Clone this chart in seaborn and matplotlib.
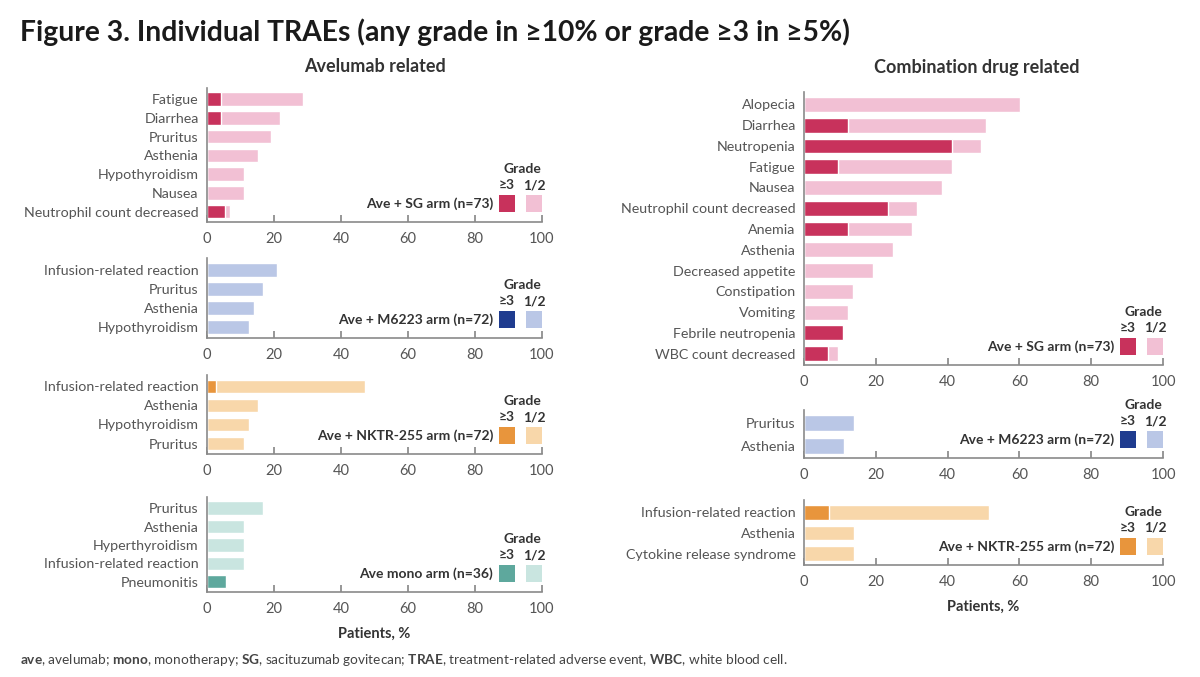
import seaborn as sns
import pandas as pd
import numpy as np
import matplotlib.pyplot as plt
from matplotlib.patches import Rectangle

# ---- data (patients, %) ----
# Avelumab related
sg_ave_labels = ['Fatigue', 'Diarrhea', 'Pruritus', 'Asthenia', 'Hypothyroidism', 'Nausea',
                 'Neutrophil count decreased']
sg_ave_any = [28.8, 21.9, 19.2, 15.1, 11.0, 11.0, 6.8]
sg_ave_g3 = [4.1, 4.1, 0, 0, 0, 0, 5.5]

m6_ave_labels = ['Infusion-related reaction', 'Pruritus', 'Asthenia', 'Hypothyroidism']
m6_ave_any = [20.8, 16.7, 13.9, 12.5]
m6_ave_g3 = [0, 0, 0, 0]

nk_ave_labels = ['Infusion-related reaction', 'Asthenia', 'Hypothyroidism', 'Pruritus']
nk_ave_any = [47.2, 15.3, 12.5, 11.1]
nk_ave_g3 = [2.8, 0, 0, 0]

mono_labels = ['Pruritus', 'Asthenia', 'Hyperthyroidism', 'Infusion-related reaction', 'Pneumonitis']
mono_any = [16.7, 11.1, 11.1, 11.1, 5.6]
mono_g3 = [0, 0, 0, 0, 5.6]

# Combination drug related
sg_comb_labels = ['Alopecia', 'Diarrhea', 'Neutropenia', 'Fatigue', 'Nausea',
                  'Neutrophil count decreased', 'Anemia', 'Asthenia', 'Decreased appetite',
                  'Constipation', 'Vomiting', 'Febrile neutropenia', 'WBC count decreased']
sg_comb_any = [60.3, 50.7, 49.3, 41.1, 38.4, 31.5, 30.1, 24.7, 19.2, 13.7, 12.3, 11.0, 9.6]
sg_comb_g3 = [0, 12.3, 41.1, 9.6, 0, 23.3, 12.3, 0, 0, 0, 0, 11.0, 6.8]

m6_comb_labels = ['Pruritus', 'Asthenia']
m6_comb_any = [13.9, 11.1]
m6_comb_g3 = [0, 0]

nk_comb_labels = ['Infusion-related reaction', 'Asthenia', 'Cytokine release syndrome']
nk_comb_any = [51.4, 13.9, 13.9]
nk_comb_g3 = [6.9, 0, 0]

# arm colours (grade >=3, grade 1/2)
sg_colors = ('#c8325c', '#f2c0d4')
m6_colors = ('#1f3c8f', '#bac7e6')
nk_colors = ('#e8953c', '#f8d7aa')
mono_colors = ('#5ea89d', '#c9e5e0')

sns.set_theme(style='white')
plt.rcParams['font.family'] = ['Lato', 'DejaVu Sans']
plt.rcParams['mathtext.fontset'] = 'custom'
plt.rcParams['mathtext.rm'] = 'Lato'
plt.rcParams['mathtext.bf'] = 'Lato:bold'

W, H = 1200, 677
fig = plt.figure(figsize=(W / 100, H / 100), dpi=100)

TXT = '#555555'
AX = '#8a8a8a'


def panel(rect_px, labels, total, g3, colors, arm, xlabel=False):
    x0, top, x1, bot = rect_px
    ax = fig.add_axes([x0 / W, 1 - bot / H, (x1 - x0) / W, (bot - top) / H])
    df = pd.DataFrame({'AE': labels, 'any': total, 'g3': g3})
    sns.barplot(data=df, x='any', y='AE', orient='h', color=colors[1], saturation=1,
                width=0.72, ax=ax)
    sns.barplot(data=df, x='g3', y='AE', orient='h', color=colors[0], saturation=1,
                width=0.72, ax=ax)
    ax.set_xlim(0, 100)
    ax.set_ylim(len(labels) - 0.45, -0.6)
    ax.set_xticks([0, 20, 40, 60, 80, 100])
    ax.set_ylabel('')
    ax.set_xlabel('Patients, %' if xlabel else '', fontsize=10.5, fontweight='bold',
                  color='#333333', labelpad=8)
    for s in ['top', 'right']:
        ax.spines[s].set_visible(False)
    for s in ['left', 'bottom']:
        ax.spines[s].set_color(AX)
        ax.spines[s].set_linewidth(1.2)
    ax.tick_params(axis='x', direction='in', length=5, color=AX, labelsize=10.5,
                   labelcolor=TXT, pad=7, bottom=True)
    ax.tick_params(axis='y', length=0, labelsize=10.3, labelcolor=TXT, pad=6)

    # legend block at the lower right of the panel
    wpx = x1 - x0
    hpx = bot - top
    fx = lambda px: 1 - px / wpx
    fy = lambda py: py / hpx
    sq = 16
    for cx, c in [(35, colors[0]), (8, colors[1])]:
        ax.add_patch(Rectangle((fx(cx + sq / 2), fy(10)), sq / wpx, 17 / hpx,
                               transform=ax.transAxes, facecolor=c, edgecolor='none',
                               clip_on=False))
    bold = dict(transform=ax.transAxes, fontsize=10, fontweight='bold', color='#333333')
    ax.text(fx(49), fy(18.5), arm, ha='right', va='center', **bold)
    ax.text(fx(35), fy(37), '≥3', ha='center', va='center', **bold)
    ax.text(fx(8), fy(37), '1/2', ha='center', va='center', **bold)
    ax.text(fx(20), fy(53), 'Grade', ha='center', va='center', **bold)
    return ax


# left column: Avelumab related
panel((207, 88, 542, 222), sg_ave_labels, sg_ave_any, sg_ave_g3, sg_colors, 'Ave + SG arm (n=73)')
panel((207, 258, 542, 338), m6_ave_labels, m6_ave_any, m6_ave_g3, m6_colors, 'Ave + M6223 arm (n=72)')
panel((207, 375, 542, 454), nk_ave_labels, nk_ave_any, nk_ave_g3, nk_colors, 'Ave + NKTR-255 arm (n=72)')
panel((207, 497, 542, 592), mono_labels, mono_any, mono_g3, mono_colors, 'Ave mono arm (n=36)',
      xlabel=True)

# right column: Combination drug related
panel((804, 92, 1163, 365), sg_comb_labels, sg_comb_any, sg_comb_g3, sg_colors, 'Ave + SG arm (n=73)')
panel((804, 410, 1163, 458), m6_comb_labels, m6_comb_any, m6_comb_g3, m6_colors, 'Ave + M6223 arm (n=72)')
panel((804, 500, 1163, 565), nk_comb_labels, nk_comb_any, nk_comb_g3, nk_colors,
      'Ave + NKTR-255 arm (n=72)', xlabel=True)

# titles
fig.text(20 / W, 1 - 32 / H, 'Figure 3. Individual TRAEs (any grade in ≥10% or grade ≥3 in ≥5%)',
         fontsize=20.3, fontweight='bold', color='#1a1a1a', va='center', ha='left')
fig.text(375 / W, 1 - 67 / H, 'Avelumab related', fontsize=13, fontweight='bold',
         color='#333333', ha='center', va='center')
fig.text(977 / W, 1 - 67 / H, 'Combination drug related', fontsize=13, fontweight='bold',
         color='#333333', ha='center', va='center')

# footnote with bold abbreviations
footnote = (r'$\mathbf{ave}$, avelumab; $\mathbf{mono}$, monotherapy; $\mathbf{SG}$, '
            r'sacituzumab govitecan; $\mathbf{TRAE}$, treatment-related adverse event, '
            r'$\mathbf{WBC}$, white blood cell.')
fig.text(20 / W, 1 - 660 / H, footnote, fontsize=9.8, color='#444444', va='center', ha='left')

fig.savefig('out.png', dpi=100, facecolor='white')
